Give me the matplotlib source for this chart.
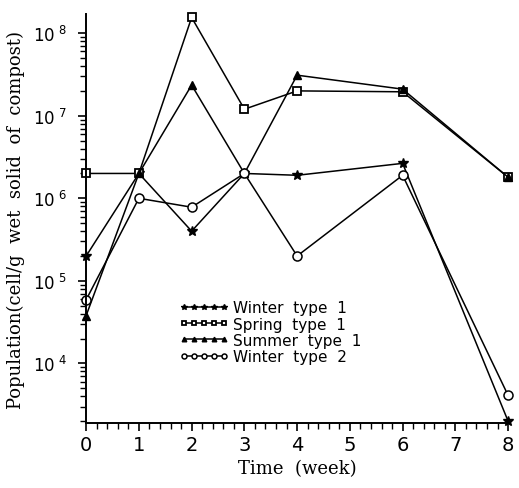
import numpy as np
from matplotlib import pyplot
from matplotlib.ticker import LogLocator, MultipleLocator, FixedLocator, FuncFormatter

weeks = [0, 1, 2, 3, 4, 6, 8]

winter1 = [2.0e5, 2.0e6, 4.0e5, 2.0e6, 1.9e6, 2.65e6, 2.0e3]
spring1 = [2.0e6, 2.0e6, 1.55e8, 1.2e7, 2.0e7, 1.95e7, 1.8e6]
summer1 = [3.8e4, 2.0e6, 2.35e7, 2.0e6, 3.1e7, 2.1e7, 1.8e6]
winter2 = [5.9e4, 1.0e6, 7.8e5, 2.0e6, 2.0e5, 1.9e6, 4.1e3]

labels = ['Winter  type  1', 'Spring  type  1', 'Summer  type  1', 'Winter  type  2']

f = pyplot.figure(figsize=(5.19, 4.89), dpi=100)
ax = f.add_axes([0.166, 0.133, 0.813, 0.836])

ax.plot(weeks, winter1, '-k*', ms=7, lw=1.1, label=labels[0], clip_on=False)
ax.plot(weeks, spring1, '-ks', ms=6, mfc='white', mew=1.3, lw=1.1, label=labels[1], clip_on=False)
ax.plot(weeks, summer1, '-k^', ms=6, lw=1.1, label=labels[2], clip_on=False)
ax.plot(weeks, winter2, '-ko', ms=6.5, mfc='white', mew=1.1, lw=1.1, label=labels[3], clip_on=False)

ax.set_yscale('log')
ax.set_ylim(1.9e3, 1.7e8)
ax.set_xlim(0, 8)

ax.xaxis.set_major_locator(MultipleLocator(1))
ax.xaxis.set_minor_locator(MultipleLocator(0.2))
ax.yaxis.set_major_locator(FixedLocator([1e4, 1e5, 1e6, 1e7, 1e8]))
ax.yaxis.set_minor_locator(LogLocator(base=10, subs=np.arange(2, 10)))
ax.yaxis.set_major_formatter(FuncFormatter(
    lambda v, p: r'$\mathregular{10^{\ %d}}$' % round(np.log10(v))))

for s in ('top', 'right'):
    ax.spines[s].set_visible(False)
for s in ('left', 'bottom'):
    ax.spines[s].set_linewidth(1.4)

ax.tick_params(axis='both', which='major', direction='out', length=6, width=1.2)
ax.tick_params(axis='both', which='minor', direction='out', length=4, width=1.0)
ax.tick_params(axis='x', labelsize=14, pad=3)
ax.tick_params(axis='y', labelsize=12, pad=8)

ax.set_xlabel('Time  (week)', family='serif', fontsize=13, labelpad=3)
ax.set_ylabel('Population(cell/g  wet  solid  of  compost)', family='serif', fontsize=13, labelpad=6)

leg = ax.legend(loc='upper left', bbox_to_anchor=(0.222, 0.30), numpoints=5, markerscale=0.55,
                frameon=False, fontsize=11, handlelength=3.2, handletextpad=0.3,
                labelspacing=0.08, borderpad=0.0, borderaxespad=0.0)

f.savefig('out.png', dpi=100)
